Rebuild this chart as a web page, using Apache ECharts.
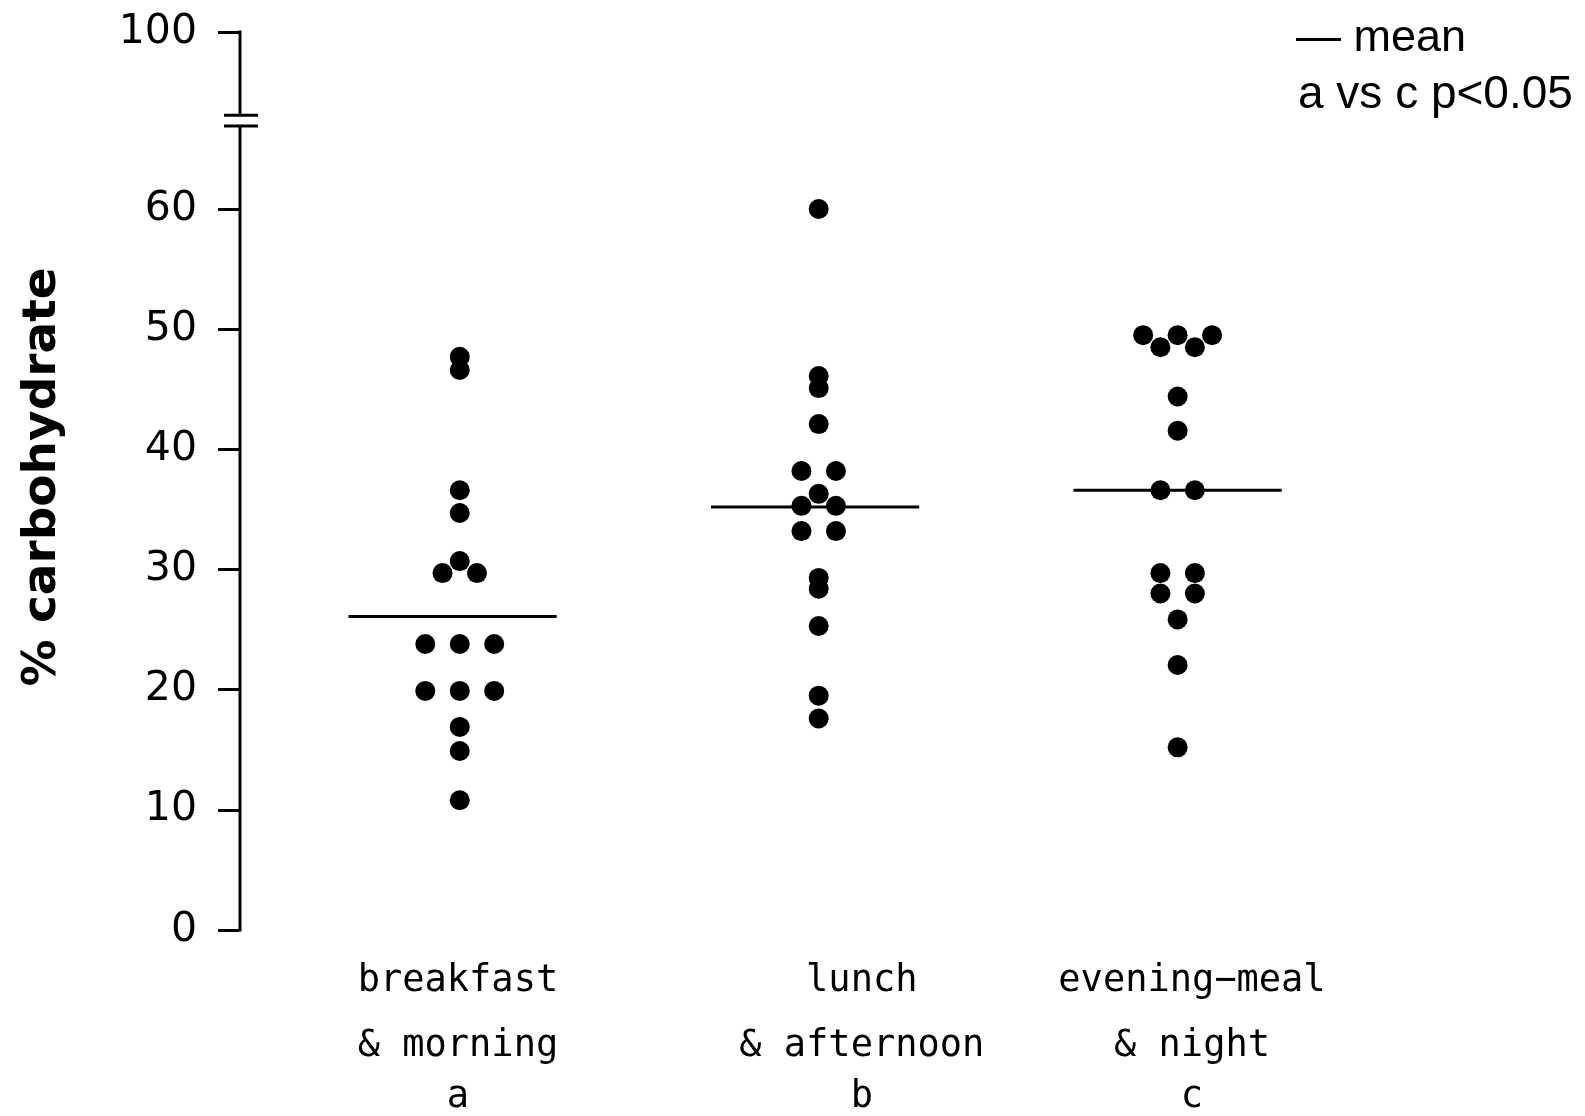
<!DOCTYPE html>
<html>
<head>
<meta charset="utf-8">
<script src="https://cdn.jsdelivr.net/npm/echarts@6/dist/echarts.min.js"></script>
<style>
  html, body { margin: 0; padding: 0; background: #fff; }
  #chart { width: 1585px; height: 1116px; }
</style>
</head>
<body>
<div id="chart"></div>
<script>
// ---------- data ----------
const categoryLines = [
  ['breakfast', '& morning', 'a'],
  ['lunch', '& afternoon', 'b'],
  ['evening\u2212meal', '& night', 'c']
];
// % carbohydrate values per group, with beeswarm slot (column offset) for each dot
const breakfastValues = [47.7, 46.6, 36.6, 34.7, 30.7, 29.7, 29.7, 23.8, 23.8, 23.8, 19.9, 19.9, 19.9, 16.9, 14.9, 10.8];
const breakfastSlots  = [0, 0, 0, 0, 0, -1, 1, -2, 0, 2, -2, 0, 2, 0, 0, 0];
const lunchValues = [60.0, 46.1, 45.1, 42.1, 38.2, 38.2, 36.3, 35.3, 35.3, 33.2, 33.2, 29.3, 28.4, 25.3, 19.5, 17.6];
const lunchSlots  = [0, 0, 0, 0, -1, 1, 0, -1, 1, -1, 1, 0, 0, 0, 0, 0];
const eveningValues = [49.5, 48.5, 49.5, 48.5, 49.5, 44.4, 41.55, 36.6, 36.6, 29.7, 29.7, 28.0, 28.0, 25.85, 22.05, 15.2];
const eveningSlots  = [-2, -1, 0, 1, 2, 0, 0, -1, 1, -1, 1, -1, 1, 0, 0, 0];
const means = [26.1, 35.2, 36.6];
const yTickValues = [0, 10, 20, 30, 40, 50, 60, 100];
const yTickLabels = ['0', '10', '20', '30', '40', '50', '60', '100'];

// ---------- broken y scale: 0-60 linear, then compressed segment up to 100 ----------
const LOWER_MAX = 60;
const UPPER_SCALE = 0.3683;            // compression of the 60..100 segment
const toAxis = v => v <= LOWER_MAX ? v : LOWER_MAX + (v - LOWER_MAX) * UPPER_SCALE;
const Y_TOP = toAxis(100);
const BREAK_LOW = 66.9, BREAK_HIGH = 67.8;   // axis-space position of the break marks

const X_MIN = 0.385, X_MAX = 3.6, SLOT_W = 0.048, MEAN_HALF = 0.29;
const labelPositions = [0.995, 2.12, 3.04];
const meanShift = [-0.02, -0.01, 0];

const groups = [
  { values: breakfastValues, slots: breakfastSlots },
  { values: lunchValues, slots: lunchSlots },
  { values: eveningValues, slots: eveningSlots }
];
const dots = [];
groups.forEach((g, gi) => {
  g.values.forEach((v, i) => dots.push([gi + 1 + g.slots[i] * SLOT_W, toAxis(v)]));
});
const meanData = means.map((m, i) => [i + 1 + meanShift[i], toAxis(m)]);

const labelFont = { fontFamily: 'DejaVu Sans Mono', fontSize: 37, color: '#000' };

const chart = echarts.init(document.getElementById('chart'), null, { renderer: 'canvas' });
chart.setOption({
  backgroundColor: '#ffffff',
  animation: false,
  grid: { left: 239, right: 192, top: 32, bottom: 186, containLabel: false, outerBoundsMode: 'none' },
  xAxis: {
    type: 'value', min: X_MIN, max: X_MAX,
    axisLine: { show: false }, axisTick: { show: false }, splitLine: { show: false },
    axisLabel: {
      customValues: labelPositions,
      formatter: (val) => {
        const idx = labelPositions.findIndex(p => Math.abs(p - val) < 1e-6);
        if (idx < 0) return '';
        const l = categoryLines[idx];
        return '{l1|' + l[0] + '}\n{l2|' + l[1] + '}\n{l3|' + l[2] + '}';
      },
      margin: 13,
      ...labelFont,
      rich: {
        l1: { ...labelFont, lineHeight: 76 },
        l2: { ...labelFont, lineHeight: 54 },
        l3: { ...labelFont, lineHeight: 48 }
      }
    }
  },
  yAxis: {
    type: 'value', min: 0, max: Y_TOP,
    axisLine: { show: false },
    splitLine: { show: false },
    axisTick: {
      show: true, inside: false, length: 21,
      customValues: yTickValues.map(toAxis),
      lineStyle: { color: '#000', width: 3 }
    },
    axisLabel: {
      customValues: yTickValues.map(toAxis),
      formatter: (val) => {
        const idx = yTickValues.findIndex(t => Math.abs(toAxis(t) - val) < 1e-6);
        return idx >= 0 ? yTickLabels[idx] : '';
      },
      margin: 42,
      fontFamily: 'DejaVu Sans', fontSize: 41, color: '#000'
    }
  },
  graphic: [
    {
      type: 'text', x: 43, y: 477, rotation: Math.PI / 2,
      style: { text: '% carbohydrate', fontFamily: 'DejaVu Sans', fontWeight: 'bold', fontSize: 47,
               fill: '#000', align: 'center', verticalAlign: 'middle' }
    },
    {
      type: 'text', x: 1296, y: 39,
      style: { text: '\u2014 mean', fontFamily: 'Liberation Sans', fontSize: 45, fill: '#000',
               align: 'left', verticalAlign: 'middle' }
    },
    {
      type: 'text', x: 1298, y: 95,
      style: { text: 'a vs c p<0.05', fontFamily: 'Liberation Sans', fontSize: 46, fill: '#000',
               align: 'left', verticalAlign: 'middle' }
    }
  ],
  series: [
    {
      type: 'custom', silent: true, z: 3,
      data: [[X_MIN, 0]],
      renderItem: (params, api) => {
        const pb = api.coord([X_MIN, 0]);
        const x0 = pb[0] + 1;
        const yLow = api.coord([X_MIN, BREAK_LOW])[1];
        const yHigh = api.coord([X_MIN, BREAK_HIGH])[1];
        const yTop = api.coord([X_MIN, Y_TOP])[1];
        const st = { stroke: '#000', lineWidth: 3 };
        return {
          type: 'group',
          children: [
            { type: 'line', shape: { x1: x0, y1: pb[1] + 1.5, x2: x0, y2: yLow }, style: st },
            { type: 'line', shape: { x1: x0, y1: yHigh, x2: x0, y2: yTop - 1.5 }, style: st },
            { type: 'line', shape: { x1: x0 - 16, y1: yLow, x2: x0 + 18, y2: yLow }, style: st },
            { type: 'line', shape: { x1: x0 - 16, y1: yHigh, x2: x0 + 18, y2: yHigh }, style: st }
          ]
        };
      }
    },
    {
      type: 'custom', silent: true, z: 4,
      data: meanData,
      renderItem: (params, api) => {
        const x = api.value(0), y = api.value(1);
        const p1 = api.coord([x - MEAN_HALF, y]);
        const p2 = api.coord([x + MEAN_HALF, y]);
        return { type: 'line', shape: { x1: p1[0], y1: p1[1], x2: p2[0], y2: p2[1] },
                 style: { stroke: '#000', lineWidth: 3 } };
      }
    },
    {
      type: 'scatter', z: 5,
      symbol: 'circle', symbolSize: 20,
      itemStyle: { color: '#000', opacity: 1 },
      data: dots
    }
  ]
});
</script>
</body>
</html>
